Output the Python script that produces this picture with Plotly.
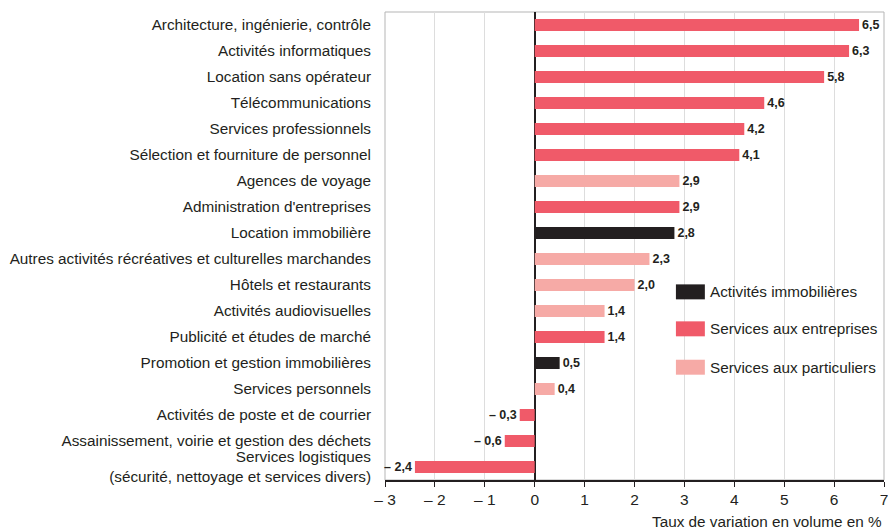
import plotly.graph_objects as go

categories = [
    "Architecture, ingénierie, contrôle",
    "Activités informatiques",
    "Location sans opérateur",
    "Télécommunications",
    "Services professionnels",
    "Sélection et fourniture de personnel",
    "Agences de voyage",
    "Administration d'entreprises",
    "Location immobilière",
    "Autres activités récréatives et culturelles marchandes",
    "Hôtels et restaurants",
    "Activités audiovisuelles",
    "Publicité et études de marché",
    "Promotion et gestion immobilières",
    "Services personnels",
    "Activités de poste et de courrier",
    "Assainissement, voirie et gestion des déchets",
    "Services logistiques<br>(sécurité, nettoyage et services divers)",
]
values = [6.5, 6.3, 5.8, 4.6, 4.2, 4.1, 2.9, 2.9, 2.8, 2.3, 2.0, 1.4, 1.4, 0.5, 0.4, -0.3, -0.6, -2.4]
groups = ["E", "E", "E", "E", "E", "E", "P", "E", "I", "P", "P", "P", "E", "I", "P", "E", "E", "E"]

series_names = {"I": "Activités immobilières", "E": "Services aux entreprises", "P": "Services aux particuliers"}
series_colors = {"I": "#231f20", "E": "#f05a69", "P": "#f6aaa6"}

x_ticks = [-3, -2, -1, 0, 1, 2, 3, 4, 5, 6, 7]
x_ticktext = ["– 3", "– 2", "– 1", "0", "1", "2", "3", "4", "5", "6", "7"]
x_title = "Taux de variation en volume en %"


def fmt(v):
    s = f"{abs(v):.1f}".replace(".", ",")
    return ("– " + s) if v < 0 else s


FONT = "Liberation Sans, Arial, Helvetica, sans-serif"
TXT = "#231f20"

fig = go.Figure()
for key in ["I", "E", "P"]:
    ys = [c for c, g in zip(categories, groups) if g == key]
    xs = [v for v, g in zip(values, groups) if g == key]
    fig.add_trace(go.Bar(
        x=xs, y=ys, orientation="h", name=series_names[key],
        marker=dict(color=series_colors[key], line=dict(width=0)),
        width=0.46,
        text=[fmt(v) for v in xs], textposition="outside",
        textfont=dict(family=FONT, size=12.5, color=TXT, weight="bold"),
        constraintext="none", cliponaxis=False, showlegend=False,
    ))

fig.update_layout(
    width=888, height=529,
    margin=dict(l=385, r=4, t=12, b=49, autoexpand=False),
    paper_bgcolor="white", plot_bgcolor="white",
    barmode="overlay",
    font=dict(family=FONT, size=15.3, color=TXT),
    showlegend=False,
)
fig.update_xaxes(
    range=[-3, 7], tickvals=x_ticks, ticktext=x_ticktext,
    showgrid=True, gridcolor="#dddddd", gridwidth=1,
    zeroline=True, zerolinecolor="#231f20", zerolinewidth=1.5,
    showline=True, linecolor="#231f20", linewidth=1.5, mirror=False,
    ticks="outside", ticklen=5, tickcolor="#231f20",
    tickfont=dict(size=15.5, family=FONT), automargin=False,
    ticklabeloverflow="allow",
)
fig.update_yaxes(
    categoryorder="array", categoryarray=categories,
    range=[17.5, -0.5],
    showgrid=False, ticks="", ticklabelstandoff=13,
    showline=False, tickfont=dict(size=15.3, family=FONT), automargin=False,
)
# plot frame (grey)
fig.add_shape(type="rect", xref="paper", yref="paper", x0=0, x1=1, y0=0, y1=1,
              line=dict(color="#b5b5b5", width=1), layer="below")

fig.add_annotation(text=x_title, xref="paper", yref="paper", x=1.0, y=-0.066,
                   xanchor="right", yanchor="top", showarrow=False,
                   font=dict(size=15.3, family=FONT, color=TXT))

# legend
leg_y = [0.402, 0.323, 0.241]
for key, yy in zip(["I", "E", "P"], leg_y):
    fig.add_shape(type="rect", xref="paper", yref="paper",
                  x0=0.583, x1=0.641, y0=yy - 0.016, y1=yy + 0.016,
                  fillcolor=series_colors[key], line=dict(width=0))
    fig.add_annotation(text=series_names[key], xref="paper", yref="paper",
                       x=0.647, y=yy, xanchor="left", yanchor="middle",
                       showarrow=False, font=dict(size=15.3, family=FONT, color=TXT))

fig.write_html(
    "out.html",
    config={"displayModeBar": False},
    post_script="document.body.style.margin='0';document.body.style.overflow='hidden';",
)
